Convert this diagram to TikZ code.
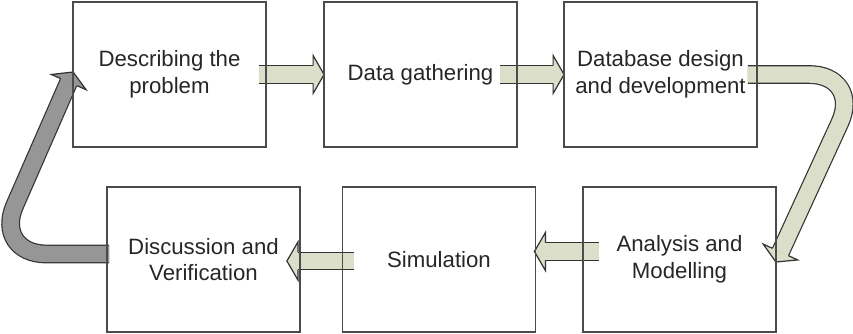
\documentclass[tikz,border=0pt]{standalone}
\usepackage{fontspec}
\setmainfont{Liberation Sans}
\usetikzlibrary{calc,backgrounds}
\definecolor{boxline}{RGB}{75,75,75}
\definecolor{arrowline}{RGB}{50,50,50}
\definecolor{sage}{RGB}{219,222,200}
\definecolor{loopgray}{RGB}{150,150,150}
\definecolor{textgray}{RGB}{38,38,38}

\begin{document}
\begin{tikzpicture}[x=0.5pt,y=-0.5pt,
  stage/.style={draw=boxline,line width=0.9pt,minimum width=96.5pt,minimum height=72.5pt,
    inner sep=0pt,align=center,text=textgray,font=\fontsize{11.1}{13.3}\selectfont},
  band/.style={draw=#1,line width=8.2pt,preaction={draw=arrowline,line width=9.4pt}},
  head/.style={fill=#1,draw=arrowline,line width=0.6pt,line join=miter}]

\useasboundingbox (0,0) rectangle (853,333);

\node[stage] (describe) at (169.5,74.5) {Describing the\\problem};
\node[stage] (gather) at (420.5,74.5) {Data gathering};
\node[stage] (design) at (660.5,74.5) {Database design\\and development};
\node[stage] (model) at (679.5,259.5) {Analysis and\\Modelling};
\node[stage] (simulate) at (439,259.5) {Simulation};
\node[stage] (discuss) at (203.5,259.5) {Discussion and\\Verification};

\begin{scope}[on background layer]
\draw[band=sage] ($(describe.east)+(-8,0)$) -- ($(gather.west)+(-10,0)$) coordinate (b1);
\coordinate (t1) at ($(gather.west)+(1,0)$);

\draw[band=sage] ($(gather.east)+(-18,0)$) -- ($(design.west)+(-10,0)$) coordinate (b2);
\coordinate (t2) at ($(design.west)+(1,0)$);

\coordinate (rbend) at (862,74.5);
\coordinate (t3) at ($(model.east)+(-1,2.5)$);
\draw[band=sage,rounded corners=26.5pt] ($(design.east)+(-10,0)$) -- (rbend) -- ($(t3)!5.5pt!(rbend)$) coordinate (b3);

\draw[band=sage] ($(model.west)+(17,-8)$) -- ($(simulate.east)+(9,-8)$) coordinate (b4);
\coordinate (t4) at ($(simulate.east)+(-2,-8)$);

\draw[band=sage] ($(simulate.west)+(12,1.5)$) -- ($(discuss.east)+(-3,1.5)$) coordinate (b5);
\coordinate (t5) at ($(discuss.east)+(-14,1.5)$);

\coordinate (lbend) at (-6.5,254);
\coordinate (t6) at ($(describe.west)+(1,-2.5)$);
\draw[band=loopgray,rounded corners=26.5pt] ($(discuss.west)+(3,-5.5)$) -- (lbend) -- ($(t6)!5.5pt!(lbend)$) coordinate (b6);

\foreach \hbase/\htip/\hcol in {b1/t1/sage,b2/t2/sage,b3/t3/sage,b4/t4/sage,b5/t5/sage,b6/t6/loopgray}
  \path[head=\hcol] ($(\hbase)!4.4pt!90:(\htip)$) -- ($(\hbase)!9.5pt!90:(\htip)$) -- (\htip)
    -- ($(\hbase)!9.5pt!-90:(\htip)$) -- ($(\hbase)!4.4pt!-90:(\htip)$);
\end{scope}

\end{tikzpicture}
\end{document}
